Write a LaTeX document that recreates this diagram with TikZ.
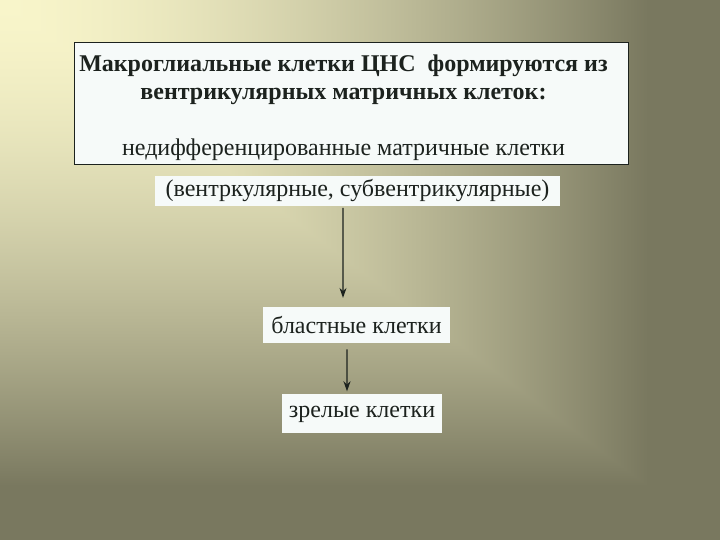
\documentclass[tikz,border=0pt]{standalone}
\usepackage{fontspec}
\setmainfont{Liberation Serif}
\usetikzlibrary{
  arrows.meta, % for Stealth arrow tip
  positioning, % for relative positioning of the boxes
}
\definecolor{boxfill}{HTML}{F6FAF9}
\definecolor{textdark}{HTML}{1C221E}
% background: light in the top left corner, darker towards the right and the bottom
\pgfdeclarefunctionalshading{slidebg}{\pgfpointorigin}{\pgfpoint{100bp}{100bp}}{}{
  75 exch sub 50 div
  exch 25 sub 50 div
  2 copy lt {exch} if pop
  0.9 div dup 1 gt {pop 1} if dup 0 lt {pop 0} if
  1.6 exp
  dup 0.498 mul 0.9725 exch sub
  exch dup 0.4902 mul 0.9608 exch sub
  exch 0.4197 mul 0.7922 exch sub
}
\tikzset{
  framebox/.style={ % style for the top box
    rectangle,draw=textdark,line width=1bp, % drawn with a thin dark border
    fill=boxfill, % near white fill
    minimum width=553bp, % fixed size of the box
    minimum height=122bp,
    inner sep=0pt,
  },
  heading/.style={ % style for the text inside the top box
    align=center,
    inner sep=0pt,
    text=textdark,
    font=\fontsize{24bp}{28bp}\selectfont,
  },
  cellbox/.style={ % style for the white boxes below
    rectangle,fill=boxfill, % no border, only a fill
    inner sep=0pt, % size is set by minimum width and height
    text=textdark,
    font=\fontsize{24bp}{28bp}\selectfont,
  },
  conn/.style={ % style for the arrows
    -{Stealth[length=10bp,width=7bp]}, % small filled arrow tip
    line width=1.2bp,
    draw=textdark,
  },
}
\begin{document}
\begin{tikzpicture}[x=1bp,y=1bp]
	\useasboundingbox (0,0) rectangle (720,540);
	\shade[shading=slidebg] (0,0) rectangle (720,540);

	\node[framebox] (frame) at (351.5,436) {};

	\node[heading] (title) [below=12bp of frame.north, xshift=-8bp]
		{\textbf{Макроглиальные клетки ЦНС~ формируются из}\\
		 \textbf{вентрикулярных матричных клеток:}\\[28bp]
		 недифференцированные матричные клетки};

	\node[cellbox, minimum width=405bp, minimum height=30bp] (ventr)
		[below=10bp of frame, xshift=6bp] {(вентркулярные, субвентрикулярные)};

	\node[cellbox, minimum width=187bp, minimum height=36bp] (blast)
		[below=101bp of ventr, xshift=-1bp] {бластные клетки};

	\node[cellbox, minimum width=160bp, minimum height=39bp] (mature)
		[below=51bp of blast, xshift=5.5bp] {зрелые клетки};

	\draw[conn] ([xshift=-14.5bp,yshift=-2bp]ventr.south) -- ([xshift=-13.5bp,yshift=9bp]blast.north);
	\draw[conn] ([xshift=-9.5bp,yshift=-6bp]blast.south) -- ([xshift=-15bp,yshift=3bp]mature.north);
\end{tikzpicture}
\end{document}
